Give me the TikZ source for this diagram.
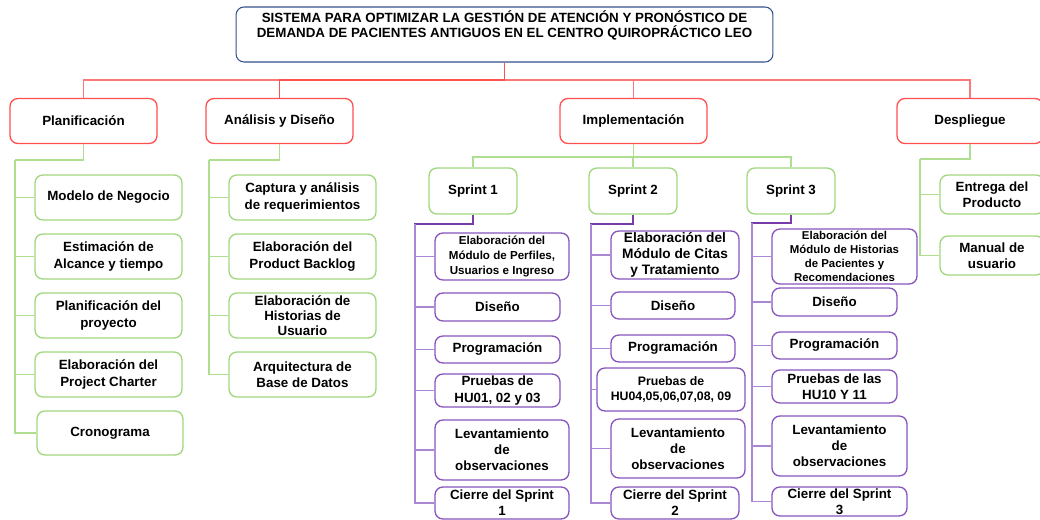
\documentclass[tikz,border=0pt]{standalone}
\usepackage{fontspec}
\setmainfont{Liberation Sans}
\definecolor{titleblue}{RGB}{52,80,140}
\definecolor{boxred}{RGB}{255,80,80}
\definecolor{linered}{RGB}{250,120,120}
\definecolor{boxgreen}{RGB}{160,215,125}
\definecolor{linegreen}{RGB}{175,222,145}
\definecolor{boxpurple}{RGB}{135,85,190}
\definecolor{linepurple}{RGB}{170,135,210}
\definecolor{darkpurple}{RGB}{120,60,170}

\tikzset{
  box/.style={rectangle,rounded corners=4.5pt,draw,fill=white,inner sep=0pt,align=center,
    line width=0.75pt,font=\fontsize{7.6}{9.2}\selectfont\bfseries},
  titlebox/.style={box,draw=titleblue,line width=0.6pt,font=\fontsize{7.6}{8.5}\selectfont\bfseries},
  redbox/.style={box,draw=boxred},
  greenbox/.style={box,draw=boxgreen},
  purplebox/.style={box,draw=boxpurple},
  redline/.style={draw=linered,line width=0.7pt},
  greenline/.style={draw=linegreen,line width=0.7pt},
  purpleline/.style={draw=linepurple,line width=0.7pt},
  sprintline/.style={draw=darkpurple,line width=1.2pt},
}

\begin{document}
\begin{tikzpicture}[x=0.02cm,y=-0.02cm]
  \useasboundingbox (0,0) rectangle (1040,520);
  \node[titlebox,minimum width=10.74cm,minimum height=1.1cm,text depth=11.5pt] (title) at (504.5,34.5)
    {SISTEMA PARA OPTIMIZAR LA GESTIÓN DE ATENCIÓN Y PRONÓSTICO DE\\
     DEMANDA DE PACIENTES ANTIGUOS EN EL CENTRO QUIROPRÁCTICO LEO};

  \node[redbox,minimum width=2.94cm,minimum height=0.9cm] (plan) at (83.5,121) {Planificación};
  \node[redbox,minimum width=2.94cm,minimum height=0.9cm] (anal) at (279.5,121) {Análisis y Diseño};
  \node[redbox,minimum width=2.94cm,minimum height=0.9cm] (impl) at (633.5,121) {Implementación};
  \node[redbox,minimum width=2.92cm,minimum height=0.9cm] (desp) at (970,121) {Despliegue};

  \node[greenbox,minimum width=2.94cm,minimum height=0.9cm] (modelo) at (108.5,197.5) {Modelo de Negocio};
  \node[greenbox,minimum width=2.94cm,minimum height=0.9cm] (alcance) at (108.5,256.5) {Estimación de\\Alcance y tiempo};
  \node[greenbox,minimum width=2.94cm,minimum height=0.9cm] (proyecto) at (108.5,315.5) {Planificación del\\proyecto};
  \node[greenbox,minimum width=2.94cm,minimum height=0.9cm] (charter) at (108.5,374.5) {Elaboración del\\Project Charter};
  \node[greenbox,minimum width=2.92cm,minimum height=0.88cm] (crono) at (110,433) {Cronograma};

  \node[greenbox,minimum width=2.94cm,minimum height=0.9cm] (captura) at (302.5,197.5) {Captura y análisis\\de requerimientos};
  \node[greenbox,minimum width=2.94cm,minimum height=0.9cm] (backlog) at (302.5,256.5) {Elaboración del\\Product Backlog};
  \node[greenbox,minimum width=2.94cm,minimum height=0.9cm,font=\fontsize{7.6}{8.6}\selectfont\bfseries] (historias) at (302.5,315.5) {Elaboración de\\Historias de\\Usuario};
  \node[greenbox,minimum width=2.94cm,minimum height=0.9cm] (bd) at (302.5,374.5) {Arquitectura de\\Base de Datos};

  \node[greenbox,minimum width=1.76cm,minimum height=0.92cm] (s1) at (473,191) {Sprint 1};
  \node[greenbox,minimum width=1.76cm,minimum height=0.92cm] (s2) at (633,191) {Sprint 2};
  \node[greenbox,minimum width=1.76cm,minimum height=0.92cm] (s3) at (791,191) {Sprint 3};

  \node[greenbox,minimum width=2.08cm,minimum height=0.78cm] (entrega) at (992,194.5) {Entrega del\\Producto};
  \node[greenbox,minimum width=2.08cm,minimum height=0.78cm] (manual) at (992,255.5) {Manual de\\usuario};

  \node[purplebox,minimum width=2.68cm,minimum height=0.94cm,font=\fontsize{6.6}{8.3}\selectfont\bfseries] (s1elab) at (502,256.5) {Elaboración del\\Módulo de Perfiles,\\Usuarios e Ingreso};
  \node[purplebox,minimum width=2.5cm,minimum height=0.56cm] (s1dis) at (497.5,307) {Diseño};
  \node[purplebox,minimum width=2.5cm,minimum height=0.54cm] (s1prog) at (497.5,349.5) {Programación};
  \node[purplebox,minimum width=2.5cm,minimum height=0.66cm] (s1prue) at (497.5,390.5) {Pruebas de\\HU01, 02 y 03};
  \node[purplebox,minimum width=2.68cm,minimum height=1.2cm] (s1lev) at (502,450) {Levantamiento\\de\\observaciones};
  \node[purplebox,minimum width=2.68cm,minimum height=0.64cm] (s1cie) at (502,503) {Cierre del Sprint\\1};

  \node[purplebox,minimum width=2.56cm,minimum height=0.96cm,font=\fontsize{7.8}{9}\selectfont\bfseries] (s2elab) at (675,255) {Elaboración del\\Módulo de Citas\\y Tratamiento};
  \node[purplebox,minimum width=2.48cm,minimum height=0.54cm] (s2dis) at (673,305.5) {Diseño};
  \node[purplebox,minimum width=2.48cm,minimum height=0.54cm] (s2prog) at (673,348.5) {Programación};
  \node[purplebox,minimum width=2.96cm,minimum height=0.86cm,font=\fontsize{7}{8.6}\selectfont\bfseries] (s2prue) at (671,389.5) {Pruebas de\\HU04,05,06,07,08, 09};
  \node[purplebox,minimum width=2.68cm,minimum height=1.18cm] (s2lev) at (678,448.5) {Levantamiento\\de\\observaciones};
  \node[purplebox,minimum width=2.56cm,minimum height=0.64cm] (s2cie) at (675,503) {Cierre del Sprint\\2};

  \node[purplebox,minimum width=2.9cm,minimum height=1.1cm,font=\fontsize{6.5}{8}\selectfont\bfseries] (s3elab) at (844.5,256.5) {Elaboración del\\Módulo de Historias\\de Pacientes y\\Recomendaciones};
  \node[purplebox,minimum width=2.5cm,minimum height=0.56cm] (s3dis) at (834.5,302) {Diseño};
  \node[purplebox,minimum width=2.5cm,minimum height=0.54cm] (s3prog) at (834.5,345.5) {Programación};
  \node[purplebox,minimum width=2.5cm,minimum height=0.66cm] (s3prue) at (834.5,386.5) {Pruebas de las\\HU10 Y 11};
  \node[purplebox,minimum width=2.7cm,minimum height=1.2cm] (s3lev) at (839.5,446) {Levantamiento\\de\\observaciones};
  \node[purplebox,minimum width=2.7cm,minimum height=0.58cm] (s3cie) at (839.5,501.5) {Cierre del Sprint\\3};

  \coordinate (tbus) at (504.5,80);
  \coordinate (ptrunk) at (15,160);
  \coordinate (atrunk) at (209,160);
  \coordinate (ibus) at (633.5,157);
  \coordinate (dtrunk) at (920,159);
  \coordinate (s1trunk) at (415,224);
  \coordinate (s2trunk) at (591,224);
  \coordinate (s3trunk) at (752,223);

  \draw[redline] (title.south) -- (tbus) -| (plan.north);
  \draw[redline,draw=boxred] (title.south) -- (tbus) -| (anal.north);
  \draw[redline] (tbus) -| (impl.north);
  \draw[redline] (tbus) -| (desp.north);

  \draw[greenline] (plan.south) |- (ptrunk);
  \foreach \n in {modelo,alcance,proyecto,charter,crono}
    \draw[greenline] (ptrunk) |- (\n.west);
  \draw[greenline] (anal.south) |- (atrunk);
  \foreach \n in {captura,backlog,historias,bd}
    \draw[greenline] (atrunk) |- (\n.west);
  \draw[greenline] (impl.south) -- (ibus) -| (s1.north);
  \draw[greenline] (ibus) -| (s2.north);
  \draw[greenline] (ibus) -| (s3.north);
  \draw[greenline] (desp.south) |- (dtrunk);
  \foreach \n in {entrega,manual}
    \draw[greenline] (dtrunk) |- (\n.west);

  \draw[sprintline] (s1.south) |- (s1trunk) -- ++(0,60);
  \foreach \n in {s1elab,s1dis,s1prog,s1prue,s1lev,s1cie}
    \draw[purpleline] (s1trunk) |- (\n.west);
  \draw[sprintline] (s2.south) |- (s2trunk) -- ++(0,60);
  \foreach \n in {s2elab,s2dis,s2prog,s2prue,s2lev,s2cie}
    \draw[purpleline] (s2trunk) |- (\n.west);
  \draw[sprintline] (s3.south) |- (s3trunk) -- ++(0,60);
  \foreach \n in {s3elab,s3dis,s3prog,s3prue,s3lev,s3cie}
    \draw[purpleline] (s3trunk) |- (\n.west);
\end{tikzpicture}
\end{document}
